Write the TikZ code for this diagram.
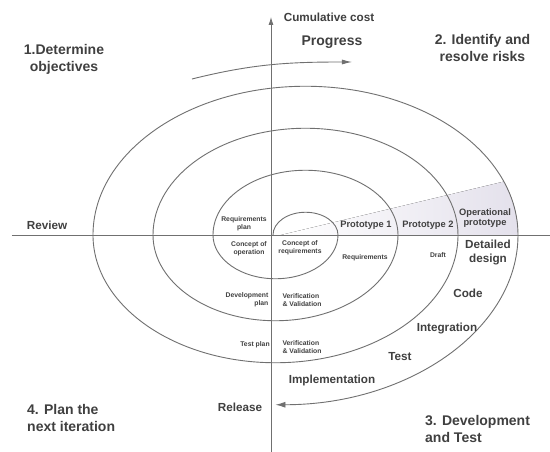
\documentclass[tikz,border=0pt]{standalone}
\usepackage{fontspec}
\setmainfont{Liberation Sans}
\usetikzlibrary{arrows.meta}
\definecolor{linegray}{HTML}{707070}
\definecolor{textgray}{HTML}{404040}
\definecolor{shadelilac}{HTML}{E3E0EB}

\tikzset{
  quadrant/.style={font=\fontsize{14}{17}\selectfont\bfseries, text=textgray, inner sep=0pt},
  activity/.style={font=\fontsize{11.7}{14}\selectfont\bfseries, text=textgray, inner sep=0pt, align=center},
  proto/.style={font=\fontsize{9.3}{10}\selectfont\bfseries, text=textgray, inner sep=0pt, align=center},
  tinytext/.style={font=\fontsize{6.8}{8}\selectfont\bfseries, text=textgray, inner sep=0pt},
  axisline/.style={draw=linegray, line width=0.8pt},
  spiralline/.style={draw=linegray, line width=0.9pt},
}

\begin{document}
\begin{tikzpicture}[x=1pt, y=1pt]
\useasboundingbox[fill=white] (-271,-217) rectangle (279,235);

% shaded prototype wedge
\begin{scope}
\clip (-178,0) arc[start angle=180, end angle=0, x radius=212.5pt, y radius=148.75pt] -- cycle;
\fill[left color=white, right color=shadelilac] (10,0) -- (252,58) -- (252,0) -- cycle;
\end{scope}

% axes
\coordinate (xleft) at (-259,0);
\coordinate (xright) at (279,0);
\coordinate (ybot) at (0,-217);
\coordinate (ytop) at (0,218);
\draw[axisline] (xleft) -- (xright);
\draw[axisline, -{Latex[length=8pt, width=5pt]}] (ybot) -- (ytop);

% spiral
\coordinate (sp0) at (2,0);
\draw[spiralline, -{Latex[length=10pt, width=6pt]}] (sp0)
  arc[start angle=180, end angle=0, x radius=32.5pt, y radius=22.75pt]
  arc[start angle=0, end angle=-180, x radius=62.5pt, y radius=43.75pt]
  arc[start angle=180, end angle=0, x radius=92.5pt, y radius=64.75pt]
  arc[start angle=0, end angle=-180, x radius=122.5pt, y radius=85.75pt]
  arc[start angle=180, end angle=0, x radius=152.5pt, y radius=106.75pt]
  arc[start angle=0, end angle=-180, x radius=182.5pt, y radius=127.75pt]
  arc[start angle=180, end angle=0, x radius=212.5pt, y radius=148.75pt]
  arc[start angle=0, end angle=-90, x radius=242.5pt, y radius=169.75pt];

% progress arrow
\coordinate (progstart) at (-79,156);
\coordinate (progend) at (81,173);
\draw[spiralline, -{Latex[length=10pt, width=5pt]}] (progstart) to[out=14, in=180] (progend);

% quadrant titles
\node[quadrant, align=center] (determine) at (-207,176) {1.Determine\\objectives};
\node[quadrant, align=center] (identify) at (211.5,187.5) {2. Identify and\\resolve risks};
\node[quadrant, align=left, anchor=west] (develop) at (154,-194) {3. Development\\and Test};
\node[quadrant, align=left, anchor=west] (plan) at (-244,-182.5) {4. Plan the\\next iteration};

\node[activity] (cumcost) at (58,218) {Cumulative cost};
\node[quadrant] (progress) at (61,193) {Progress};
\node[activity] (review) at (-224,10) {Review};
\node[activity] (release) at (-31,-172) {Release};

% development steps
\node[activity] (implementation) at (61,-145) {Implementation};
\node[activity] (test) at (129,-122) {Test};
\node[activity] (integration) at (176,-94) {Integration};
\node[activity] (code) at (197,-58) {Code};
\node[activity] (detailed) at (217,-18) {Detailed\\design};

% prototypes
\node[proto] (proto1) at (95,10) {Prototype 1};
\node[proto] (proto2) at (157,10) {Prototype 2};
\node[proto] (operational) at (214,17) {Operational\\prototype};

% inner labels
\node[tinytext] (draft) at (167,-20) {Draft};
\node[tinytext] (requirements) at (94,-23) {Requirements};
\node[tinytext, align=center] (reqplan) at (-27,11) {Requirements\\plan};
\node[tinytext, align=center] (conop) at (-22,-14) {Concept of\\operation};
\node[tinytext, align=center] (conreq) at (29,-13) {Concept of\\requirements};
\node[tinytext, align=right] (devplan) at (-24,-65) {Development\\plan};
\node[tinytext, align=left] (vvone) at (31,-65) {Verification\\\& Validation};
\node[tinytext] (testplan) at (-16,-110) {Test plan};
\node[tinytext, align=left] (vvtwo) at (31,-112) {Verification\\\& Validation};
\end{tikzpicture}
\end{document}
